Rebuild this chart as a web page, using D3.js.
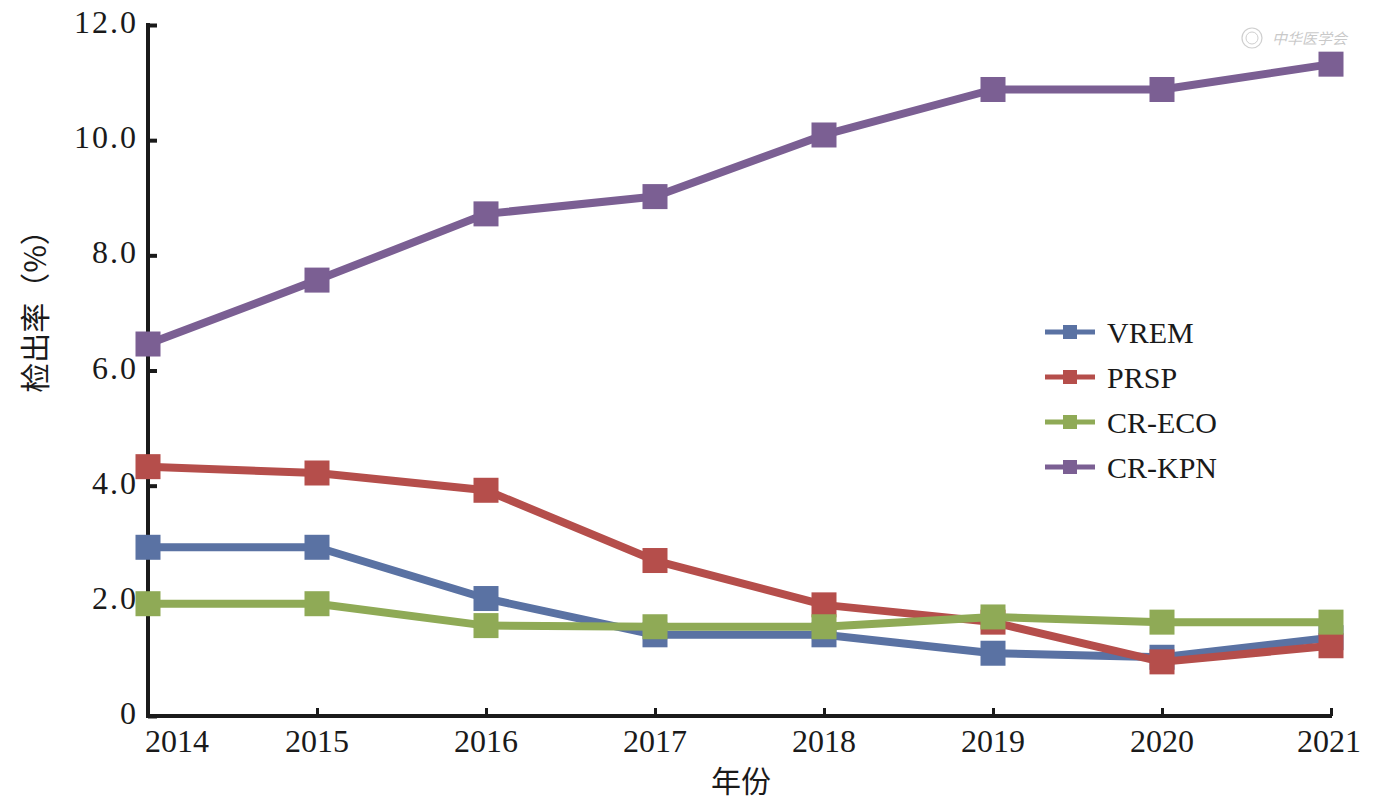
<!DOCTYPE html>
<html>
<head>
<meta charset="utf-8">
<script src="https://cdn.jsdelivr.net/npm/d3@7"></script>
<style>
  body { margin: 0; background: #fff; }
  text { fill: #1a1a1a; }
</style>
</head>
<body>
<script>
const years = [2014, 2015, 2016, 2017, 2018, 2019, 2020, 2021];
const seriesNames = ["VREM", "PRSP", "CR-ECO", "CR-KPN"];
const vrem = [2.93, 2.93, 2.04, 1.41, 1.41, 1.09, 1.02, 1.36];
const prsp = [4.33, 4.22, 3.92, 2.70, 1.93, 1.63, 0.94, 1.22];
const crEco = [1.95, 1.95, 1.57, 1.55, 1.55, 1.72, 1.63, 1.63];
const crKpn = [6.46, 7.57, 8.72, 9.02, 10.09, 10.88, 10.88, 11.32];
const yTicks = [0, 2, 4, 6, 8, 10, 12];
const colors = ["#5a72a3", "#b54e4b", "#8faa56", "#7b5f93"];

const width = 1378;
const height = 809;
const margin = { left: 148, right: 47, top: 25, bottom: 93 };

const svg = d3.select("body").append("svg")
  .attr("width", width)
  .attr("height", height);

const x = d3.scaleLinear()
  .domain([2014, 2021])
  .range([margin.left, width - margin.right]);

const y = d3.scaleLinear()
  .domain([0, 12])
  .range([height - margin.bottom, margin.top]);

const serif = "'Liberation Serif', 'DejaVu Serif', serif";
const cjk = "'Noto Sans CJK SC', sans-serif";

// axes
const yAxis = d3.axisRight(y)
  .tickValues(yTicks)
  .tickSize(9)
  .tickFormat(() => "");

svg.append("g")
  .attr("transform", `translate(${margin.left},0)`)
  .call(yAxis)
  .call(g => g.select(".domain").attr("stroke", "#1a1a1a").attr("stroke-width", 4)
    .attr("d", `M0,${y(12) - 2}H0V${y(0)}`))
  .call(g => g.selectAll(".tick line").attr("stroke", "#1a1a1a").attr("stroke-width", 4));

const xAxis = d3.axisTop(x)
  .tickValues(years.slice(1))
  .tickSize(8)
  .tickFormat(() => "");

svg.append("g")
  .attr("transform", `translate(0,${y(0)})`)
  .call(xAxis)
  .call(g => g.select(".domain").attr("stroke", "#1a1a1a").attr("stroke-width", 4)
    .attr("d", `M${margin.left - 2},0H${x(2021) + 1}`))
  .call(g => g.selectAll(".tick line").attr("stroke", "#1a1a1a").attr("stroke-width", 3));

// y tick labels
svg.append("g").selectAll("text")
  .data(yTicks)
  .join("text")
  .attr("x", margin.left - 10)
  .attr("y", d => y(d) + 8)
  .attr("text-anchor", "end")
  .attr("font-family", serif)
  .attr("font-size", 32)
  .attr("letter-spacing", 2)
  .text(d => d === 0 ? "0" : d.toFixed(1));

// x tick labels
svg.append("g").selectAll("text")
  .data(years)
  .join("text")
  .attr("x", d => d === 2014 ? x(d) + 29 : (d === 2021 ? x(d) - 2 : x(d)))
  .attr("y", y(0) + 36)
  .attr("text-anchor", "middle")
  .attr("font-family", serif)
  .attr("font-size", 32)
  .text(d => d);

// axis titles
svg.append("text")
  .attr("transform", `translate(46,304) rotate(-90)`)
  .attr("text-anchor", "middle")
  .attr("font-family", cjk)
  .attr("font-size", 30)
  .text("检出率（%）");

svg.append("text")
  .attr("x", 741)
  .attr("y", 792)
  .attr("text-anchor", "middle")
  .attr("font-family", cjk)
  .attr("font-size", 30)
  .text("年份");

// series
const allSeries = [vrem, prsp, crEco, crKpn];
const line = d3.line()
  .x((d, i) => x(years[i]))
  .y(d => y(d));

const markerSize = 25;

allSeries.forEach((vals, k) => {
  const g = svg.append("g");
  g.append("path")
    .datum(vals)
    .attr("fill", "none")
    .attr("stroke", colors[k])
    .attr("stroke-width", 8)
    .attr("stroke-linejoin", "round")
    .attr("d", line);
  g.selectAll("rect")
    .data(vals)
    .join("rect")
    .attr("x", (d, i) => x(years[i]) - markerSize / 2)
    .attr("y", d => y(d) - markerSize / 2)
    .attr("width", markerSize)
    .attr("height", markerSize)
    .attr("fill", colors[k]);
});

// legend
const legend = svg.append("g").attr("transform", "translate(1045,332)");
seriesNames.forEach((name, k) => {
  const row = legend.append("g").attr("transform", `translate(0,${k * 45})`);
  row.append("line")
    .attr("x1", 0).attr("x2", 50)
    .attr("stroke", colors[k])
    .attr("stroke-width", 5);
  row.append("rect")
    .attr("x", 18).attr("y", -7)
    .attr("width", 14).attr("height", 14)
    .attr("fill", colors[k]);
  row.append("text")
    .attr("x", 62)
    .attr("y", 11)
    .attr("font-family", serif)
    .attr("font-size", 30)
    .text(name);
});

// watermark
const wm = svg.append("g").attr("transform", "translate(1252,38)").attr("opacity", 0.35);
wm.append("circle").attr("r", 10).attr("fill", "none").attr("stroke", "#777").attr("stroke-width", 1.2);
wm.append("circle").attr("r", 6).attr("fill", "none").attr("stroke", "#777").attr("stroke-width", 1);
wm.append("text")
  .attr("x", 20).attr("y", 6)
  .attr("font-family", cjk)
  .attr("font-size", 15)
  .attr("font-style", "italic")
  .style("fill", "#666")
  .text("中华医学会");
</script>
</body>
</html>
